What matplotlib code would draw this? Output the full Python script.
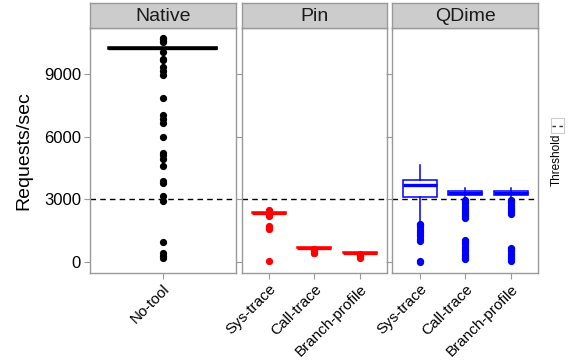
import matplotlib
matplotlib.use("Agg")
import matplotlib.pyplot as plt
from matplotlib.lines import Line2D
from matplotlib.patches import Rectangle

plt.rcParams['font.family'] = ['Liberation Sans', 'DejaVu Sans']

# data
threshold = 3000
yticks = [0, 3000, 6000, 9000]

panels = ["Native", "Pin", "QDime"]
colors = ["black", "red", "blue"]
cats = [["No-tool"],
        ["Sys-trace", "Call-trace", "Branch-profile"],
        ["Sys-trace", "Call-trace", "Branch-profile"]]

# box stats: median, q1, q3, lower whisker, upper whisker
native_stats = [(10250, 10210, 10290, 10210, 10290)]
pin_stats = [(2360, 2340, 2385, 2340, 2385),
             (680, 665, 695, 665, 695),
             (440, 425, 455, 425, 455)]
qdime_stats = [(3700, 3130, 3940, 1900, 4620),
               (3290, 3190, 3380, 3050, 3560),
               (3290, 3190, 3380, 3050, 3560)]

native_fliers = [[10700, 10650, 10600, 10550, 10050, 9700, 9650, 9350, 9150, 8950,
                  7850, 7050, 6850, 6650, 6000, 5200, 5100, 4950, 4600, 3870,
                  3800, 3150, 2900, 950, 450, 300, 200]]
pin_fliers = [[2500, 2450, 2300, 2250, 2200, 1720, 1650, 1580, 30],
              [600, 550, 500, 450, 420],
              [380, 330, 280, 230, 180]]
qdime_fliers = [[1830, 1750, 1650, 1550, 1450, 1350, 1250, 1100, 1000, 60, 20],
                [2980, 2900, 2800, 2700, 2600, 2500, 2400, 2300, 2200, 2100,
                 1050, 950, 850, 700, 600, 500, 400, 300, 200, 140],
                [2980, 2900, 2800, 2700, 2600, 2500, 2400, 2300,
                 680, 600, 500, 400, 300, 200, 100, 30]]

all_stats = [native_stats, pin_stats, qdime_stats]
all_fliers = [native_fliers, pin_fliers, qdime_fliers]

W, H = 575, 362
fig = plt.figure(figsize=(W / 100, H / 100), dpi=100)

lefts = [90, 241.5, 392.5]
width = 145.5
top, bottom = 28, 273
strip_top = 3
border = "#999999"

for i, name in enumerate(panels):
    ax = fig.add_axes([lefts[i] / W, 1 - bottom / H, width / W, (bottom - top) / H])
    col = colors[i]
    n = len(cats[i])
    bw = 0.9 if n == 1 else 0.75
    bx = []
    for (med, q1, q3, lo, hi), fl in zip(all_stats[i], all_fliers[i]):
        bx.append(dict(med=med, q1=q1, q3=q3, whislo=lo, whishi=hi, fliers=fl))
    ax.bxp(bx, positions=range(1, n + 1), widths=bw, patch_artist=True,
           showcaps=False,
           boxprops=dict(facecolor="white", edgecolor=col, linewidth=1.1),
           whiskerprops=dict(color=col, linewidth=1.1),
           medianprops=dict(color=col, linewidth=2.4),
           flierprops=dict(marker="o", markerfacecolor=col, markeredgecolor=col,
                           markersize=4.2, linestyle="none"))
    ax.axhline(threshold, color="black", linestyle=(0, (4, 3)), linewidth=1.0, zorder=0)
    ax.set_xlim(0.4, n + 0.6)
    ax.set_ylim(-530, 11200)
    ax.set_xticks(range(1, n + 1))
    ax.set_xticklabels(cats[i], rotation=45, ha="right", rotation_mode="anchor",
                       fontsize=11)
    ax.set_yticks(yticks)
    if i == 0:
        ax.set_yticklabels([str(v) for v in yticks], fontsize=12)
        ax.set_ylabel("Requests/sec", fontsize=14, labelpad=8)
    else:
        ax.set_yticklabels([])
        ax.tick_params(axis="y", length=0)
    ax.tick_params(color=border, length=4, width=0.8, pad=2.5)
    for s in ax.spines.values():
        s.set_color(border)
        s.set_linewidth(1.0)

    sax = fig.add_axes([lefts[i] / W, 1 - top / H, width / W, (top - strip_top) / H])
    sax.set_facecolor("#cccccc")
    sax.set_xticks([])
    sax.set_yticks([])
    for s in sax.spines.values():
        s.set_color(border)
        s.set_linewidth(1.0)
    sax.text(0.5, 0.45, name, ha="center", va="center", fontsize=14,
             color="#1a1a1a", transform=sax.transAxes)

# threshold legend
fig.patches.append(Rectangle((551 / W, 1 - 133 / H), 13 / W, 15 / H,
                             transform=fig.transFigure, facecolor="white",
                             edgecolor="#cccccc", linewidth=0.8, zorder=1))
fig.lines.append(Line2D([552 / W, 563 / W], [1 - 125.5 / H, 1 - 125.5 / H],
                        transform=fig.transFigure, color="#333333",
                        linestyle=(0, (2.5, 2.5)), linewidth=1.0, zorder=3))
fig.text(557 / W, 1 - 160 / H, "Threshold", rotation=90, ha="center",
         va="center", fontsize=8.5)

fig.savefig("out.png", dpi=100)
